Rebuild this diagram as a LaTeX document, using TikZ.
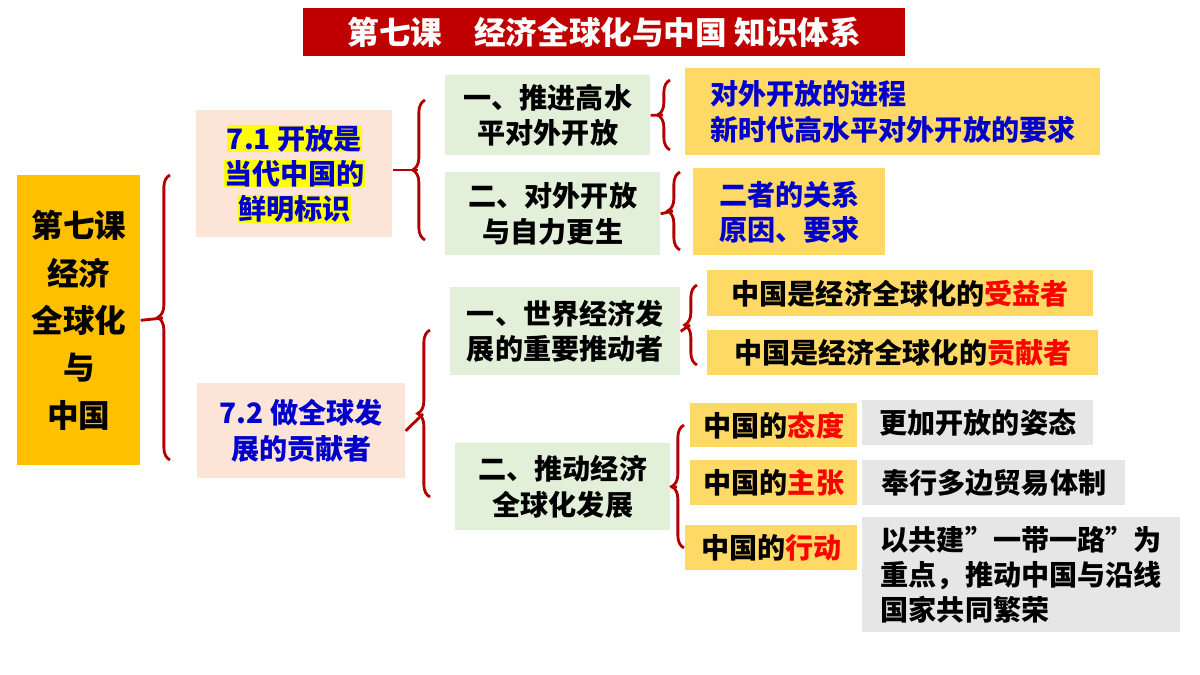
\documentclass[tikz,border=0pt]{standalone}
\usepackage{fontspec}
\setmainfont{Noto Sans CJK SC}
\usepackage{tikz}
\usetikzlibrary{positioning,calc,decorations.pathreplacing}
\definecolor{titlered}{RGB}{192, 0, 0}
\definecolor{leftorange}{RGB}{255, 192, 0}
\definecolor{pinkbox}{RGB}{252, 228, 214}
\definecolor{greenbox}{RGB}{226, 240, 217}
\definecolor{yellowbox}{RGB}{255, 217, 102}
\definecolor{greybox}{RGB}{231, 230, 230}
\definecolor{textblue}{RGB}{0, 0, 204}
\definecolor{bracered}{RGB}{178, 0, 0}
\definecolor{hlyellow}{RGB}{255, 255, 0}

\begin{document}
\begin{tikzpicture}[
    x=0.02cm, y=-0.02cm,
    % box styles
    base/.style={anchor=north west, inner sep=2pt, font=\fontsize{16}{20}\selectfont\bfseries},
    title/.style={base, fill=titlered, text=white, font=\fontsize{18}{22}\selectfont\bfseries},
    leftbox/.style={base, fill=leftorange, align=center, font=\fontsize{18}{27}\selectfont\bfseries},
    pinkb/.style={base, fill=pinkbox, text=textblue, align=center},
    greenb/.style={base, fill=greenbox, align=center},
    yellowb/.style={base, fill=yellowbox, text=textblue, align=left},
    yellowk/.style={base, fill=yellowbox, align=left},
    greyb/.style={base, fill=greybox, align=left},
    brc/.style={draw=bracered, line width=1.6pt, decorate, decoration={brace, amplitude=7pt}},
    stem/.style={draw=bracered, line width=1.6pt}
]
\useasboundingbox (0,0) rectangle (1200,675);
\fboxsep=0pt

% title
\node [title, minimum width=12.04cm, minimum height=0.96cm] (title) at (303,8) {第七课\quad 经济全球化与中国 知识体系};

% left column
\node [leftbox, minimum width=2.46cm, minimum height=5.8cm] (root) at (17,175) {第七课\\经济\\全球化\\与\\中国};
\node [pinkb, minimum width=3.92cm, minimum height=2.54cm] (open) at (196,110) {\colorbox{hlyellow}{7.1 开放是}\\\colorbox{hlyellow}{当代中国的}\\\colorbox{hlyellow}{鲜明标识}};
\node [pinkb, minimum width=4.16cm, minimum height=1.9cm] (contrib) at (197,383) {7.2 做全球发\\展的贡献者};

% second level
\node [greenb, minimum width=4.1cm, minimum height=1.6cm] (push) at (445,75) {一、推进高水\\平对外开放};
\node [greenb, minimum width=4.3cm, minimum height=1.66cm] (self) at (445,172) {二、对外开放\\与自力更生};
\node [greenb, minimum width=4.6cm, minimum height=1.76cm] (driver) at (450,287) {一、世界经济发\\展的重要推动者};
\node [greenb, minimum width=4.3cm, minimum height=1.74cm] (promote) at (455,443) {二、推动经济\\全球化发展};

% third level
\node [yellowb, minimum width=8.3cm, minimum height=1.74cm] (process) at (685,68) {对外开放的进程\\新时代高水平对外开放的要求};
\node [yellowb, minimum width=3.84cm, minimum height=1.74cm] (relation) at (693,168) {二者的关系\\原因、要求};
\node [yellowk, minimum width=7.72cm, minimum height=0.92cm] (gain) at (707,270) {中国是经济全球化的\textcolor{red}{受益者}};
\node [yellowk, minimum width=7.82cm, minimum height=0.9cm] (give) at (707,330) {中国是经济全球化的\textcolor{red}{贡献者}};
\node [yellowk, minimum width=3.34cm, minimum height=0.88cm] (attitude) at (690,403) {中国的\textcolor{red}{态度}};
\node [yellowk, minimum width=3.34cm, minimum height=0.9cm] (claim) at (690,460) {中国的\textcolor{red}{主张}};
\node [yellowk, minimum width=3.44cm, minimum height=0.9cm] (action) at (685,525) {中国的\textcolor{red}{行动}};
\node [greyb, minimum width=4.62cm, minimum height=0.9cm] (openpose) at (862,400) {更加开放的姿态};
\node [greyb, minimum width=5.26cm, minimum height=0.9cm] (trade) at (862,460) {奉行多边贸易体制};
\node [greyb, minimum width=6.36cm, minimum height=2.3cm] (belt) at (862,517) {以共建"一带一路"为\\重点，推动中国与沿线\\国家共同繁荣};

% braces
\draw [brc] (170,460) -- (170,175);
\draw [stem] (root.east) -- (163,318);
\draw [brc] (425,240) -- (425,100);
\draw [stem] (open.east |- 0,170) -- (418,170);
\draw [brc] (670,150) -- (670,80);
\draw [stem] (push.east) -- (663,115);
\draw [brc] (680,250) -- (680,172);
\draw [stem] (self.east) -- (673,211);
\draw [brc] (430,497) -- (430,330);
\draw [stem] (contrib.east) -- (423,414);
\draw [brc] (697,365) -- (697,285);
\draw [stem] (driver.east) -- (690,325);
\draw [brc] (684,548) -- (684,425);
\draw [stem] (promote.east) -- (677,487);

\end{tikzpicture}
\end{document}
